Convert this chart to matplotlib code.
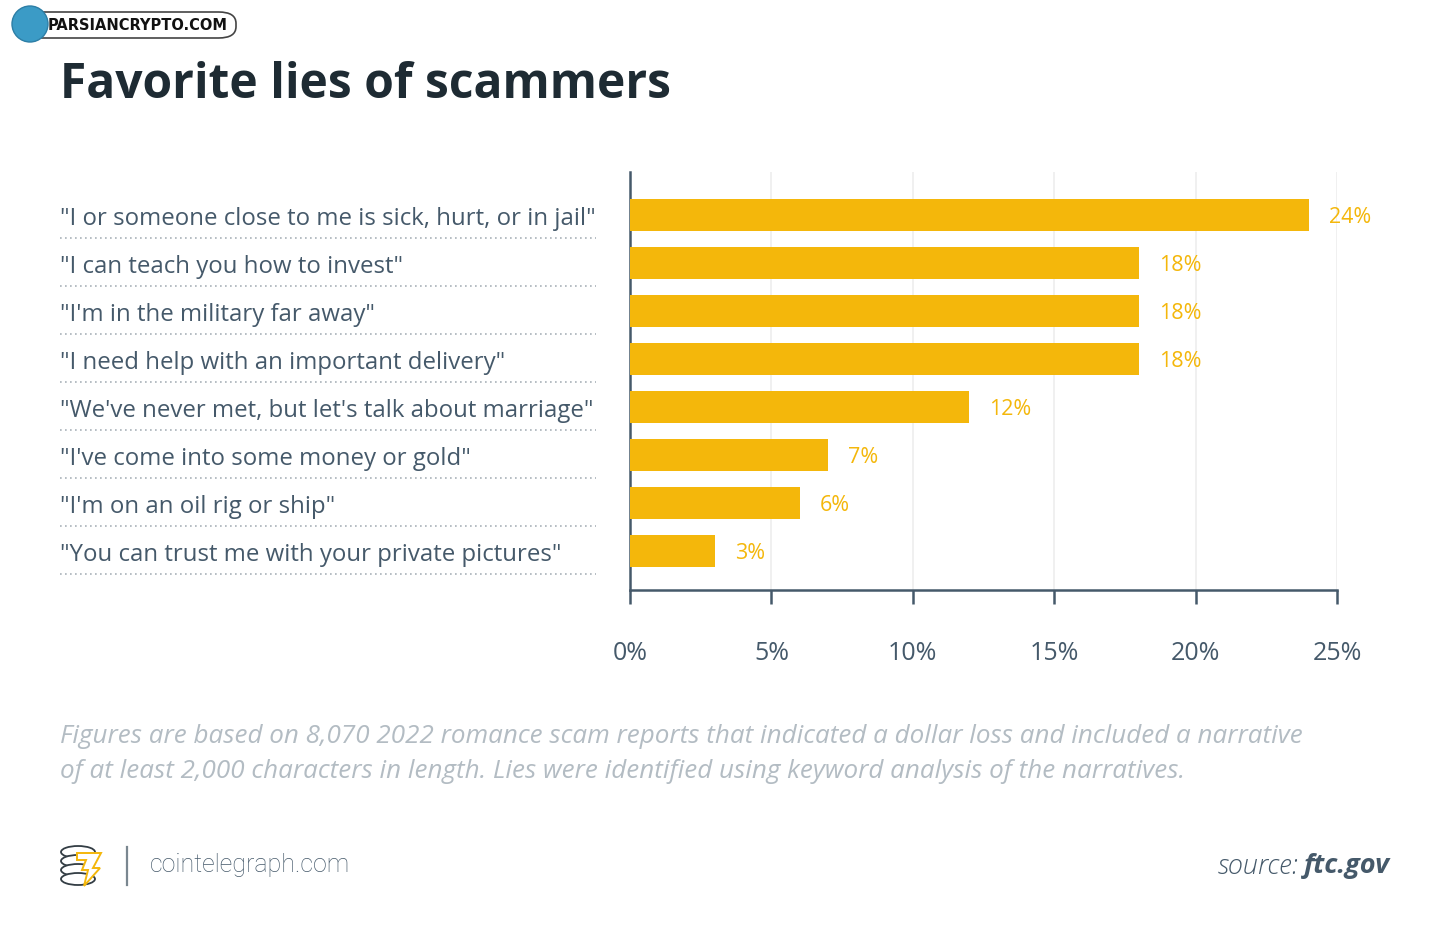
import matplotlib
matplotlib.use("Agg")
import matplotlib.pyplot as plt
import matplotlib.transforms as mtransforms
from matplotlib.patches import FancyBboxPatch, Ellipse, Polygon
from matplotlib.lines import Line2D

lies = [
    '"I or someone close to me is sick, hurt, or in jail"',
    '"I can teach you how to invest"',
    '"I\'m in the military far away"',
    '"I need help with an important delivery"',
    '"We\'ve never met, but let\'s talk about marriage"',
    '"I\'ve come into some money or gold"',
    '"I\'m on an oil rig or ship"',
    '"You can trust me with your private pictures"',
]
shares = [24, 18, 18, 18, 12, 7, 6, 3]
xticks = [0, 5, 10, 15, 20, 25]
xtick_labels = ["0%", "5%", "10%", "15%", "20%", "25%"]

BAR = "#f4b70b"
DARK = "#45596a"
TITLE = "#1e2b33"
NOTE = "#b3bcc3"

plt.rcParams["font.family"] = ["Open Sans", "DejaVu Sans"]

fig = plt.figure(figsize=(14.5, 9.46), dpi=100)
W, H = 1450, 946
ax = fig.add_axes([630 / W, 1 - 590 / H, 707 / W, 418 / H])

pos = list(range(len(lies)))
ax.barh(pos, shares, height=0.667, color=BAR, zorder=3)
ax.set_xlim(0, 25)
ax.set_ylim(7.8125, -0.896)

for p, v in zip(pos, shares):
    ax.text(v + 0.7, p + 0.05, f"{v}%", color=BAR, fontsize=15.5, va="center", ha="left")

ax.set_xticks(xticks)
ax.set_xticklabels(xtick_labels, fontsize=18, color=DARK)
ax.tick_params(axis="x", length=10, width=1.8, color=DARK, pad=27)
ax.set_yticks([])
ax.grid(axis="x", color="#eeeeee", linewidth=1.2, zorder=0)
for s in ["top", "right"]:
    ax.spines[s].set_visible(False)
for s in ["left", "bottom"]:
    ax.spines[s].set_color(DARK)
    ax.spines[s].set_linewidth(1.8)

# category labels and dotted separators on the left
tr = mtransforms.blended_transform_factory(fig.transFigure, ax.transData)
for p, lab in zip(pos, lies):
    ax.text(60 / W, p + 0.09, lab, transform=tr, fontsize=17.3, color=DARK,
            va="center", ha="left", clip_on=False)
    ax.add_line(Line2D([60 / W, 596 / W], [p + 0.48, p + 0.48], transform=tr,
                       color="#a9b2b9", linewidth=1.2, linestyle=(0, (1, 2)),
                       clip_on=False))

# title
fig.text(60 / W, 1 - 85 / H, "Favorite lies of scammers", fontsize=34.6,
         fontweight="bold", color=TITLE, va="center", ha="left")

# footnote
fig.text(60 / W, 1 - 736 / H,
         "Figures are based on 8,070 2022 romance scam reports that indicated a dollar loss and included a narrative",
         fontsize=18.7, style="italic", color=NOTE, va="center", ha="left")
fig.text(60 / W, 1 - 771 / H,
         "of at least 2,000 characters in length. Lies were identified using keyword analysis of the narratives.",
         fontsize=18.7, style="italic", color=NOTE, va="center", ha="left")

# footer: cointelegraph logo
for k in range(4):
    cy = 1 - (852 + k * 9) / H
    fig.patches.append(Ellipse((78 / W, cy), 34 / W, 12 / H, transform=fig.transFigure,
                               facecolor="white", edgecolor="#333d44", linewidth=1.3))
fig.patches.append(Polygon([[77 / W, 1 - 853 / H], [101 / W, 1 - 853 / H], [93 / W, 1 - 868 / H],
                            [100 / W, 1 - 868 / H], [84 / W, 1 - 886 / H], [88 / W, 1 - 870 / H],
                            [82 / W, 1 - 870 / H], [86 / W, 1 - 860 / H], [77 / W, 1 - 860 / H]],
                           closed=True, transform=fig.transFigure,
                           facecolor="white", edgecolor=BAR, linewidth=1.4))
fig.add_artist(Line2D([127 / W, 127 / W], [1 - 847 / H, 1 - 885 / H], color="#7a8790",
                      linewidth=1.6, transform=fig.transFigure))
fig.text(150 / W, 1 - 865 / H, "cointelegraph.com", fontsize=18, color=DARK,
         family=["Roboto", "DejaVu Sans"], fontweight="light", va="center", ha="left")

# source
src = fig.text(1390 / W, 1 - 866 / H, "ftc.gov", fontsize=19.5, color=DARK,
               style="italic", fontweight="bold", va="center", ha="right")
fig.canvas.draw()
bb = src.get_window_extent()
fig.text(bb.x0 / W - 5 / W, 1 - 866 / H, "source:", fontsize=19.5, color=DARK,
         style="italic", fontweight="light", va="center", ha="right")

# watermark badge
fig.patches.append(FancyBboxPatch((22 / W, 1 - 38 / H), 214 / W, 26 / H,
                                  boxstyle="round,pad=0,rounding_size=0.012",
                                  transform=fig.transFigure, facecolor="white",
                                  edgecolor="#444444", linewidth=1.2))
fig.patches.append(Ellipse((30 / W, 1 - 24 / H), 36 / W, 36 / H, transform=fig.transFigure,
                           facecolor="#3b9bc6", edgecolor="#2c7ea6", linewidth=1))
fig.text(48 / W, 1 - 25 / H, "PARSIANCRYPTO.COM", fontsize=10.5, fontweight="bold",
         color="#111111", va="center", ha="left", family=["DejaVu Sans"])

fig.savefig("out.png", dpi=100)
